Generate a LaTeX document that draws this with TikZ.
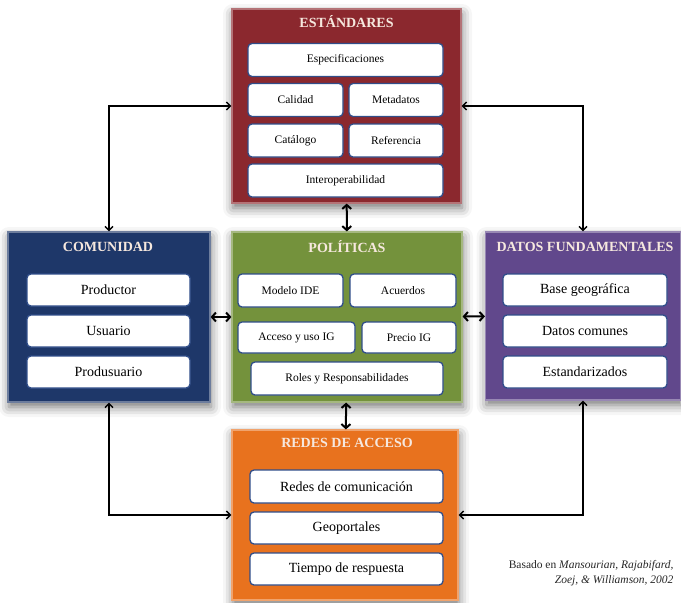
\documentclass[tikz,border=0pt]{standalone}
\usepackage{fontspec}
\setmainfont{Liberation Serif}
\usepackage{tikz}
\usetikzlibrary{arrows.meta,shadows.blur}

\definecolor{rojo}{RGB}{139,40,46}
\definecolor{azul}{RGB}{30,55,105}
\definecolor{verde}{RGB}{116,146,60}
\definecolor{morado}{RGB}{97,72,140}
\definecolor{naranja}{RGB}{232,114,30}
\definecolor{borde}{RGB}{48,78,138}
\definecolor{claro}{RGB}{246,232,222}

\begin{document}
\begin{tikzpicture}[x=1pt, y=-1pt,
	area/.style={rectangle, draw=#1!65!white, line width=1.2pt, fill=#1, inner sep=0pt,
		blur shadow={shadow xshift=1pt, shadow yshift=-5pt, shadow blur radius=10pt, shadow opacity=55}},
	titulo/.style={font=\bfseries\fontsize{14}{16}\selectfont, text=claro},
	caja/.style={draw=borde, fill=white, rounded corners=4pt, line width=1.3pt, inner sep=0pt, minimum height=32pt, font=\fontsize{14}{16}\selectfont},
	cajita/.style={caja, minimum height=33pt, font=\fontsize{11.5}{13}\selectfont},
	seta/.style={<->, >={Straight Barb[length=4pt,width=8pt]}, line width=1.4pt},
	setacorta/.style={seta, line width=2pt, >={Straight Barb[length=4pt,width=9pt]}}
	]
	\useasboundingbox (0,0) rectangle (681,603);

	\node[area=rojo, minimum width=229pt, minimum height=194pt] (estandares) at (346.5,106) {};
	\node[area=azul, minimum width=202pt, minimum height=170pt] (comunidad) at (109,317) {};
	\node[area=verde, minimum width=230pt, minimum height=170pt] (politicas) at (347,317) {};
	\node[area=morado, minimum width=195pt, minimum height=168pt] (datos) at (583,316) {};
	\node[area=naranja, minimum width=226pt, minimum height=170pt] (redes) at (345,515) {};

	\node[titulo] (t-est) at (346.5,22) {ESTÁNDARES};
	\node[cajita, minimum width=195pt] (espec) at (345.5,60) {Especificaciones};
	\node[cajita, minimum width=95pt] (calidad) at (295.5,100) {Calidad};
	\node[cajita, minimum width=94pt] (meta) at (396,100) {Metadatos};
	\node[cajita, minimum width=95pt] (catalogo) at (295.5,140.5) {Catálogo};
	\node[cajita, minimum width=94pt] (ref) at (396,140.5) {Referencia};
	\node[cajita, minimum width=195pt] (interop) at (345.5,180.5) {Interoperabilidad};

	\node[titulo] (t-com) at (108,247) {COMUNIDAD};
	\node[caja, minimum width=163pt] (productor) at (108.5,290) {Productor};
	\node[caja, minimum width=163pt] (usuario) at (108.5,331) {Usuario};
	\node[caja, minimum width=163pt] (produsuario) at (108.5,372) {Produsuario};

	\node[titulo] (t-pol) at (347,247) {POLÍTICAS};
	\node[cajita, minimum width=105pt] (modelo) at (290.5,290.5) {Modelo IDE};
	\node[cajita, minimum width=106pt] (acuerdos) at (403,290.5) {Acuerdos};
	\node[cajita, minimum width=117pt, minimum height=31pt] (acceso) at (296.5,337.5) {Acceso y uso IG};
	\node[cajita, minimum width=94pt, minimum height=31pt] (precio) at (409,337.5) {Precio IG};
	\node[cajita, minimum width=192pt] (roles) at (347,378.5) {Roles y Responsabilidades};

	\node[titulo] (t-dat) at (585,247) {DATOS FUNDAMENTALES};
	\node[caja, minimum width=164pt] (base) at (585,290) {Base geográfica};
	\node[caja, minimum width=164pt] (comunes) at (585,331) {Datos comunes};
	\node[caja, minimum width=164pt] (estand) at (585,372) {Estandarizados};

	\node[titulo] (t-red) at (347,443) {REDES DE ACCESO};
	\node[caja, minimum width=193pt, minimum height=33pt] (comunic) at (346.5,486.5) {Redes de comunicación};
	\node[caja, minimum width=193pt] (geoport) at (346.5,528) {Geoportales};
	\node[caja, minimum width=193pt] (tiempo) at (346.5,569) {Tiempo de respuesta};

	\node[font=\fontsize{11.5}{15}\selectfont, align=right, anchor=east, text=black!85] (fuente) at (677,573) {Basado en \textit{Mansourian, Rajabifard,}\\ \textit{Zoej, \& Williamson, 2002}};

	\draw[seta] (comunidad) |- (estandares);
	\draw[seta] (datos) |- (estandares);
	\draw[seta] (comunidad) |- (redes);
	\draw[seta] (datos) |- (redes);
	\draw[setacorta] (estandares) -- (politicas);
	\draw[setacorta] (politicas) -- (redes);
	\draw[setacorta] (comunidad) -- (politicas);
	\draw[setacorta] (politicas) -- (datos);
\end{tikzpicture}
\end{document}
